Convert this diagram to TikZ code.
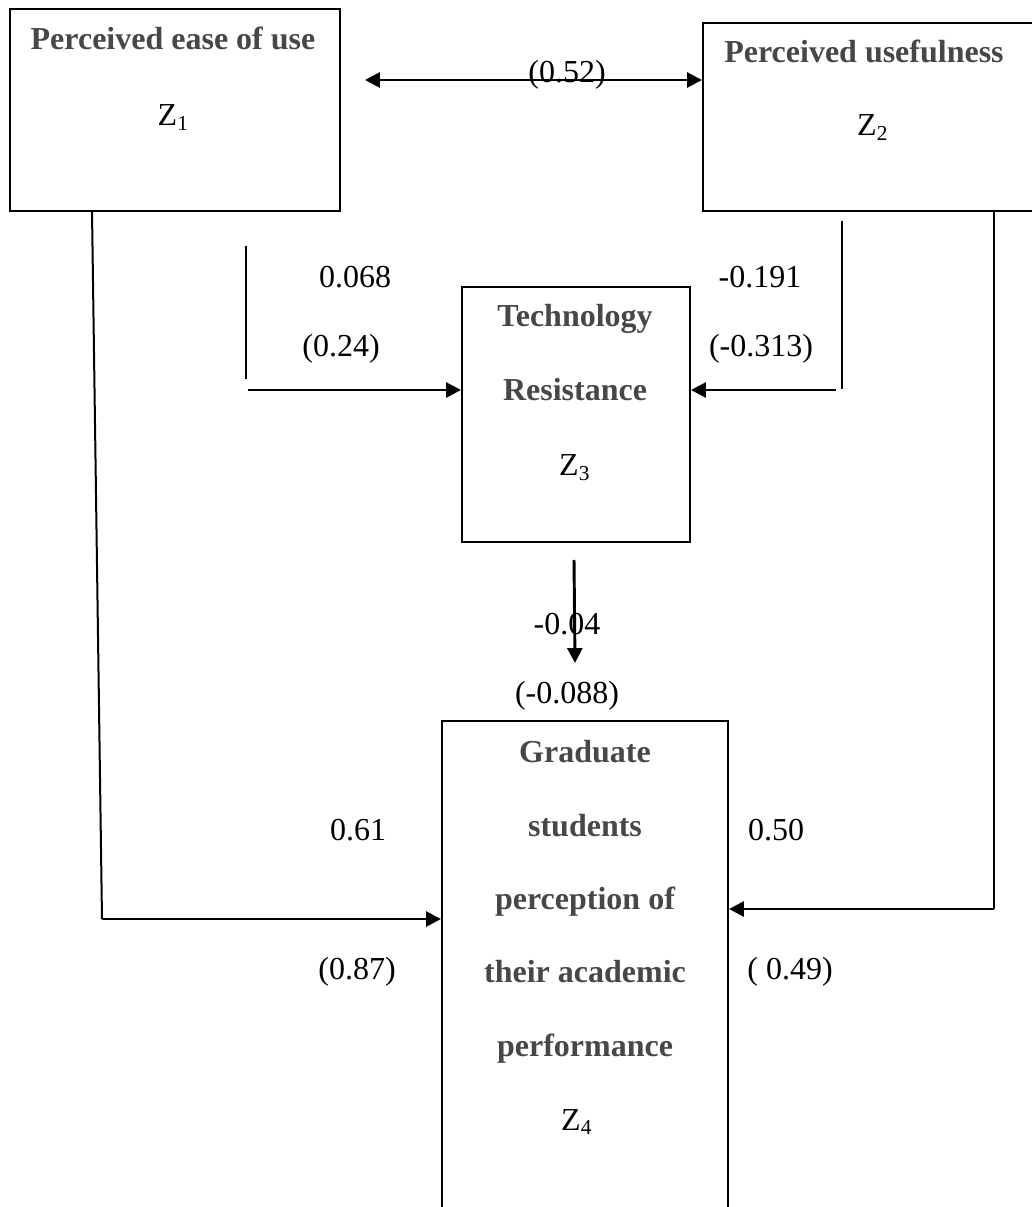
\documentclass[tikz,border=0pt]{standalone}
\usepackage{fontspec}
\setmainfont{Liberation Serif}
\usepackage{tikz}
\usetikzlibrary{arrows.meta}
\definecolor{headgrey}{HTML}{474747}

\begin{document}
\begin{tikzpicture}[x=0.375pt, y=-0.375pt, font=\fontsize{12}{14}\selectfont,
	box/.style={draw, line width=0.75pt, inner sep=0pt},
	head/.style={anchor=base, inner sep=0pt, text=headgrey, font=\fontsize{12}{14}\selectfont\bfseries},
	val/.style={anchor=base, inner sep=0pt},
	A/.style={line width=1.1pt, -{Triangle[length=5.6pt, width=5.6pt]}}]
		\useasboundingbox (0,0) rectangle (1031,1207);
		
		% boxes
		\node [box, minimum width=123.75pt, minimum height=75.75pt] (peou) at (175,110) {};
		\node [box, minimum width=124.5pt, minimum height=70.5pt] (pu) at (869,117) {};
		\node [box, minimum width=85.5pt, minimum height=95.6pt] (tr) at (576,414.5) {};
		\node [box, minimum width=107.25pt, minimum height=185.25pt] (gp) at (585,968) {};
		
		\node [head] (peoutxt) at (173,50) {Perceived ease of use};
		\node [val] (z1) at (173.5,126) {Z\textsubscript{1}};
		\node [head] (putxt) at (864,63) {Perceived usefulness};
		\node [val] (z2) at (873,136) {Z\textsubscript{2}};
		\node [head] (trtxt1) at (575,327) {Technology};
		\node [head] (trtxt2) at (575,401) {Resistance};
		\node [val] (z3) at (575,476) {Z\textsubscript{3}};
		\foreach \t/\y [count=\i] in {Graduate/762, students/836, perception of/909, their academic/982, performance/1056}
			\node [head] (gptxt\i) at (585,\y) {\t};
		\node [val] (z4) at (577,1130) {Z\textsubscript{4}};
		
		% free ends of the connectors
		\coordinate (corr) at (365,80);
		\coordinate (ltop) at (92,211);
		\coordinate (lturn) at (102,919);
		\coordinate (rturn) at (994,909);
		\coordinate (bl1) at (246,246);
		\coordinate (bl2) at (246,379);
		\coordinate (bl3) at (248,390);
		\coordinate (br1) at (842,221);
		\coordinate (br2) at (842,389);
		\coordinate (br3) at (836,390);
		\coordinate (dtop) at (574,560);
		\coordinate (dtip) at (575,663);
		
		\draw [A, {Triangle[length=5.6pt, width=5.6pt]}-{Triangle[length=5.6pt, width=5.6pt]}] (corr) -- (corr -| pu.west);
		\draw [line width=0.75pt] (ltop) -- (lturn);
		\draw [A] (lturn) -- (lturn -| gp.west);
		\draw [line width=0.75pt] (rturn |- pu.south) -- (rturn);
		\draw [A] (rturn) -- (rturn -| gp.east);
		\draw [line width=0.75pt] (bl1) -- (bl2);
		\draw [A] (bl3) -- (bl3 -| tr.west);
		\draw [line width=0.75pt] (br1) -- (br2);
		\draw [A] (br3) -- (br3 -| tr.east);
		\draw [A] (dtop) -- (dtip);
		
		% path coefficients
		\node [val] (v052) at (567,83) {(0.52)};
		\node [val] (v068) at (355,288) {0.068};
		\node [val] (v024) at (341,357) {(0.24)};
		\node [val] (v191) at (760,288) {-0.191};
		\node [val] (v313) at (761,357) {(-0.313)};
		\node [val] (v004) at (567,634) {-0.04};
		\node [val] (v088) at (567,703) {(-0.088)};
		\node [val] (v061) at (358,840) {0.61};
		\node [val] (v087) at (357,979) {(0.87)};
		\node [val] (v050) at (776,840) {0.50};
		\node [val] (v049) at (790,979) {( 0.49)};
		
\end{tikzpicture}
\end{document}
